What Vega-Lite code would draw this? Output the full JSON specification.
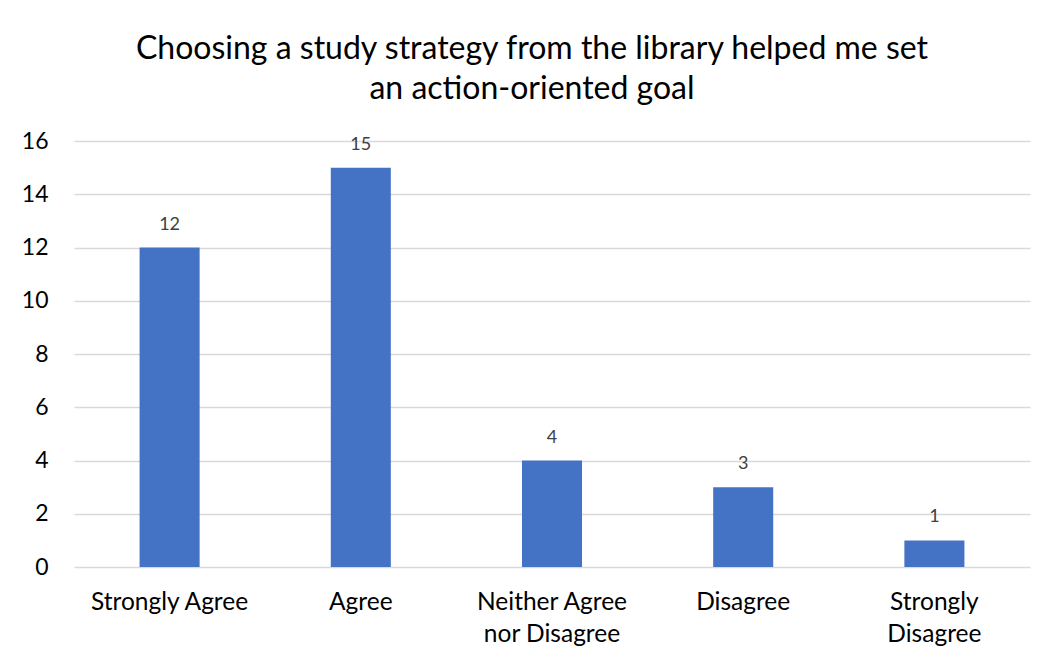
{
  "$schema": "https://vega.github.io/schema/vega-lite/v6.json",
  "width": 956,
  "height": 426,
  "autosize": {"type": "none"},
  "padding": {"left": 74, "top": 141, "right": 17, "bottom": 95},
  "background": "white",
  "title": {
    "text": ["Choosing a study strategy from the library helped me set", "an action-oriented goal"],
    "font": "Lato",
    "fontSize": 32,
    "fontWeight": "normal",
    "color": "#000000",
    "anchor": "middle",
    "lineHeight": 40,
    "offset": 24,
    "dx": -20
  },
  "data": {
    "values": [
      {"response": "Strongly Agree", "count": 12},
      {"response": "Agree", "count": 15},
      {"response": "Neither Agree nor Disagree", "count": 4},
      {"response": "Disagree", "count": 3},
      {"response": "Strongly Disagree", "count": 1}
    ]
  },
  "encoding": {
    "x": {
      "field": "response",
      "type": "nominal",
      "sort": null,
      "scale": {"paddingInner": 0.686, "paddingOuter": 0.343},
      "axis": {
        "title": null,
        "labelAngle": 0,
        "domain": false,
        "ticks": false,
        "labelFont": "Lato",
        "labelFontSize": 24.5,
        "labelColor": "#000000",
        "labelPadding": 23,
        "labelLineHeight": 32,
        "labelExpr": "datum.label == 'Neither Agree nor Disagree' ? ['Neither Agree', 'nor Disagree'] : datum.label == 'Strongly Disagree' ? ['Strongly', 'Disagree'] : datum.label"
      }
    },
    "y": {
      "field": "count",
      "type": "quantitative",
      "scale": {"domain": [0, 16], "nice": false},
      "axis": {
        "title": null,
        "values": [0, 2, 4, 6, 8, 10, 12, 14, 16],
        "domain": false,
        "ticks": false,
        "grid": true,
        "gridColor": "#D9D9D9",
        "gridWidth": 1.5,
        "labelFont": "Lato",
        "labelFontSize": 23,
        "labelColor": "#000000",
        "labelPadding": 26
      }
    }
  },
  "layer": [
    {"mark": {"type": "bar", "color": "#4472C4"}},
    {
      "mark": {"type": "text", "baseline": "bottom", "dy": -14, "font": "Lato", "fontSize": 18, "color": "#404040"},
      "encoding": {"text": {"field": "count", "type": "quantitative"}}
    }
  ],
  "config": {"view": {"stroke": null}}
}
